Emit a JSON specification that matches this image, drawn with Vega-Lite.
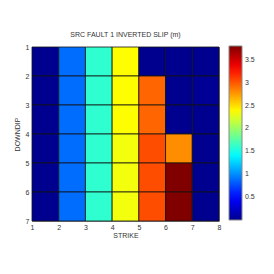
{
  "$schema": "https://vega.github.io/schema/vega-lite/v6.json",
  "width": 187,
  "height": 174,
  "autosize": "none",
  "padding": {"left": 32, "top": 47, "right": 55, "bottom": 53},
  "background": "white",
  "config": {
    "font": "Liberation Sans",
    "view": {"stroke": "#8a8a8a", "strokeWidth": 1},
    "axis": {"labelFontSize": 7, "titleFontSize": 7, "labelColor": "#333", "titleColor": "#333", "titleFontWeight": "normal", "grid": false, "domain": false, "tickSize": 0, "labelFlush": false}
  },
  "title": {"text": "SRC FAULT 1 INVERTED SLIP (m)", "fontSize": 7, "fontWeight": "normal", "color": "#333", "offset": 5, "anchor": "middle"},
  "data": {
    "values": [
      {"strike": 1, "strike_end": 2, "downdip": 1, "downdip_end": 2, "slip": 0.0},
      {"strike": 1, "strike_end": 2, "downdip": 2, "downdip_end": 3, "slip": 0.0},
      {"strike": 1, "strike_end": 2, "downdip": 3, "downdip_end": 4, "slip": 0.0},
      {"strike": 1, "strike_end": 2, "downdip": 4, "downdip_end": 5, "slip": 0.0},
      {"strike": 1, "strike_end": 2, "downdip": 5, "downdip_end": 6, "slip": 0.0},
      {"strike": 1, "strike_end": 2, "downdip": 6, "downdip_end": 7, "slip": 0.0},
      {"strike": 2, "strike_end": 3, "downdip": 1, "downdip_end": 2, "slip": 0.88},
      {"strike": 2, "strike_end": 3, "downdip": 2, "downdip_end": 3, "slip": 0.88},
      {"strike": 2, "strike_end": 3, "downdip": 3, "downdip_end": 4, "slip": 0.88},
      {"strike": 2, "strike_end": 3, "downdip": 4, "downdip_end": 5, "slip": 0.88},
      {"strike": 2, "strike_end": 3, "downdip": 5, "downdip_end": 6, "slip": 0.88},
      {"strike": 2, "strike_end": 3, "downdip": 6, "downdip_end": 7, "slip": 0.88},
      {"strike": 3, "strike_end": 4, "downdip": 1, "downdip_end": 2, "slip": 1.6},
      {"strike": 3, "strike_end": 4, "downdip": 2, "downdip_end": 3, "slip": 1.6},
      {"strike": 3, "strike_end": 4, "downdip": 3, "downdip_end": 4, "slip": 1.6},
      {"strike": 3, "strike_end": 4, "downdip": 4, "downdip_end": 5, "slip": 1.6},
      {"strike": 3, "strike_end": 4, "downdip": 5, "downdip_end": 6, "slip": 1.6},
      {"strike": 3, "strike_end": 4, "downdip": 6, "downdip_end": 7, "slip": 1.6},
      {"strike": 4, "strike_end": 5, "downdip": 1, "downdip_end": 2, "slip": 2.38},
      {"strike": 4, "strike_end": 5, "downdip": 2, "downdip_end": 3, "slip": 2.38},
      {"strike": 4, "strike_end": 5, "downdip": 3, "downdip_end": 4, "slip": 2.38},
      {"strike": 4, "strike_end": 5, "downdip": 4, "downdip_end": 5, "slip": 2.33},
      {"strike": 4, "strike_end": 5, "downdip": 5, "downdip_end": 6, "slip": 2.33},
      {"strike": 4, "strike_end": 5, "downdip": 6, "downdip_end": 7, "slip": 2.33},
      {"strike": 5, "strike_end": 6, "downdip": 1, "downdip_end": 2, "slip": 0.0},
      {"strike": 5, "strike_end": 6, "downdip": 2, "downdip_end": 3, "slip": 2.95},
      {"strike": 5, "strike_end": 6, "downdip": 3, "downdip_end": 4, "slip": 2.95},
      {"strike": 5, "strike_end": 6, "downdip": 4, "downdip_end": 5, "slip": 3.04},
      {"strike": 5, "strike_end": 6, "downdip": 5, "downdip_end": 6, "slip": 3.04},
      {"strike": 5, "strike_end": 6, "downdip": 6, "downdip_end": 7, "slip": 3.04},
      {"strike": 6, "strike_end": 7, "downdip": 1, "downdip_end": 2, "slip": 0.0},
      {"strike": 6, "strike_end": 7, "downdip": 2, "downdip_end": 3, "slip": 0.0},
      {"strike": 6, "strike_end": 7, "downdip": 3, "downdip_end": 4, "slip": 0.0},
      {"strike": 6, "strike_end": 7, "downdip": 4, "downdip_end": 5, "slip": 2.8},
      {"strike": 6, "strike_end": 7, "downdip": 5, "downdip_end": 6, "slip": 3.8},
      {"strike": 6, "strike_end": 7, "downdip": 6, "downdip_end": 7, "slip": 3.8},
      {"strike": 7, "strike_end": 8, "downdip": 1, "downdip_end": 2, "slip": 0.0},
      {"strike": 7, "strike_end": 8, "downdip": 2, "downdip_end": 3, "slip": 0.02},
      {"strike": 7, "strike_end": 8, "downdip": 3, "downdip_end": 4, "slip": 0.0},
      {"strike": 7, "strike_end": 8, "downdip": 4, "downdip_end": 5, "slip": 0.0},
      {"strike": 7, "strike_end": 8, "downdip": 5, "downdip_end": 6, "slip": 0.0},
      {"strike": 7, "strike_end": 8, "downdip": 6, "downdip_end": 7, "slip": 0.0}
    ]
  },
  "mark": {"type": "rect", "stroke": "#111", "strokeWidth": 0.8},
  "encoding": {
    "x": {"field": "strike", "type": "quantitative", "title": "STRIKE",
      "scale": {"domain": [1, 8], "nice": false, "zero": false},
      "axis": {"values": [1, 2, 3, 4, 5, 6, 7, 8], "format": "d", "labelPadding": 2, "titlePadding": 1}},
    "x2": {"field": "strike_end"},
    "y": {"field": "downdip", "type": "quantitative", "title": "DOWNDIP",
      "scale": {"domain": [1, 7], "nice": false, "zero": false, "reverse": true},
      "axis": {"values": [1, 2, 3, 4, 5, 6, 7], "format": "d", "labelPadding": 3, "titlePadding": 5}},
    "y2": {"field": "downdip_end"},
    "color": {"field": "slip", "type": "quantitative",
      "scale": {"domain": [0, 0.475, 1.425, 2.375, 3.325, 3.8],
        "range": ["#00008f", "#0000ff", "#00ffff", "#ffff00", "#ff0000", "#800000"],
        "interpolate": "rgb"},
      "legend": {"title": null, "orient": "none", "legendX": 197, "legendY": -1, "direction": "vertical",
        "gradientLength": 174, "gradientThickness": 13, "gradientStrokeColor": "#888", "gradientStrokeWidth": 1,
        "values": [0.5, 1, 1.5, 2, 2.5, 3, 3.5], "format": ".1~f", "labelFontSize": 7, "labelColor": "#333", "labelOffset": 3}
    }
  }
}
